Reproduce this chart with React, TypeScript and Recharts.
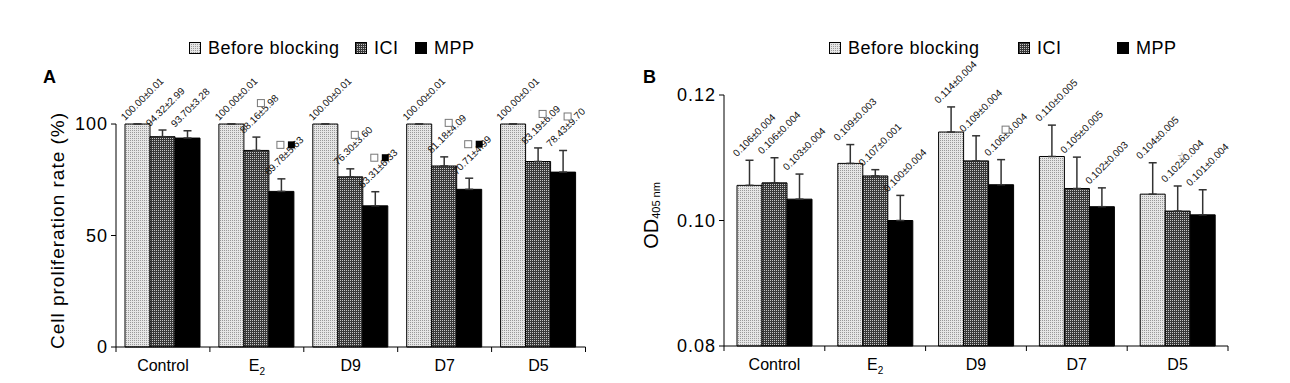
import { Bar, BarChart, ErrorBar, LabelList, XAxis, YAxis } from "recharts";

const FONT = "'Liberation Sans', Arial, Helvetica, sans-serif";

const groups = ["Control", "E2", "D9", "D7", "D5"];
const seriesNames = ["Before blocking", "ICI", "MPP"];
const fills = ["url(#fillBefore)", "url(#fillIci)", "#000"];

// A: cell proliferation rate (%)
const rateBefore = [100, 100, 100, 100, 100];
const rateBeforeSd = [0.01, 0.01, 0.01, 0.01, 0.01];
const rateIci = [94.32, 88.16, 76.3, 81.18, 83.19];
const rateIciSd = [2.99, 5.98, 3.6, 4.09, 6.09];
const rateMpp = [93.7, 69.78, 63.31, 70.71, 78.43];
const rateMppSd = [3.28, 5.63, 6.33, 4.99, 9.7];
const rateIciMarks = ["", "□", "□", "□", "□"];
const rateMppMarks = ["", "□■", "□■", "□■", "□"];
const rateTicks = [0, 50, 100];

// B: OD 405 nm -- bar heights, printed means next to them
const odBefore = [0.1056, 0.1091, 0.1141, 0.1102, 0.1042];
const odBeforeMean = [0.106, 0.109, 0.114, 0.11, 0.104];
const odBeforeSd = [0.004, 0.003, 0.004, 0.005, 0.005];
const odIci = [0.106, 0.1071, 0.1095, 0.1051, 0.1015];
const odIciMean = [0.106, 0.107, 0.109, 0.105, 0.102];
const odIciSd = [0.004, 0.001, 0.004, 0.005, 0.004];
const odMpp = [0.1034, 0.1, 0.1057, 0.1022, 0.1009];
const odMppMean = [0.103, 0.1, 0.106, 0.102, 0.101];
const odMppSd = [0.004, 0.004, 0.004, 0.003, 0.004];
const odIciMarks = ["", "", "", "", "☆"];
const odMppMarks = ["", "", "□", "", ""];
const odTicks = [0.08, 0.1, 0.12];

const noMarks = ["", "", "", "", ""];

function makeRows(
  vals: number[][],
  sds: number[][],
  means: number[][],
  marks: string[][],
  digits: number
) {
  return groups.map((group, i) => {
    const row: any = { group };
    vals.forEach((v, s) => {
      row[`s${s}`] = v[i];
      row[`s${s}Sd`] = sds[s][i];
      row[`s${s}Text`] = `${means[s][i].toFixed(digits)}±${sds[s][i].toFixed(digits)}`;
      row[`s${s}Mark`] = marks[s][i];
    });
    return row;
  });
}

const rateRows = makeRows(
  [rateBefore, rateIci, rateMpp],
  [rateBeforeSd, rateIciSd, rateMppSd],
  [rateBefore, rateIci, rateMpp],
  [noMarks, rateIciMarks, rateMppMarks],
  2
);

const odRows = makeRows(
  [odBefore, odIci, odMpp],
  [odBeforeSd, odIciSd, odMppSd],
  [odBeforeMean, odIciMean, odMppMean],
  [noMarks, odIciMarks, odMppMarks],
  3
);

// rotated "mean±sd" text above the error bar, plus significance marks
function makeNote(rows: any[], s: number, base: number, markDy: number) {
  return (props: any) => {
    const vb = props.viewBox ?? props;
    const x = Number(vb.x);
    const y = Number(vb.y);
    const h = Number(vb.height);
    const row = rows[props.index];
    if (!row || !Number.isFinite(x) || !Number.isFinite(y)) return null;
    const value = row[`s${s}`];
    const sd = row[`s${s}Sd`];
    const top = h > 0 ? y - (sd * h) / (value - base) : y;
    const lx = x;
    const ly = top - 3;
    const marks: string[] = Array.from(String(row[`s${s}Mark`] ?? ""));
    const mx = x + 17;
    const my = top + markDy;
    return (
      <g>
        <text
          x={lx}
          y={ly}
          transform={`rotate(-45 ${lx} ${ly})`}
          fontSize={10}
          fill="#111"
          fontFamily={FONT}
        >
          {props.value}
        </text>
        {marks.map((m, k) => {
          const cx = mx + (k - (marks.length - 1) / 2) * 11;
          if (m === "■")
            return <rect key={k} x={cx - 3.5} y={my - 3.5} width={7} height={7} fill="#000" />;
          if (m === "□")
            return (
              <rect key={k} x={cx - 3.5} y={my - 3.5} width={7} height={7} fill="#fff" stroke="#777" />
            );
          return (
            <text key={k} x={cx} y={my} textAnchor="middle" dominantBaseline="central" fontSize={11} fill="#777">
              {m}
            </text>
          );
        })}
      </g>
    );
  };
}

function GroupTick(props: any) {
  const { x, y, payload, index, visibleTicksCount } = props;
  const half = payload?.offset ?? 0;
  const v = String(payload?.value ?? "");
  return (
    <g>
      <line x1={x - half} x2={x - half} y1={y} y2={y + 5} stroke="#000" />
      {index === visibleTicksCount - 1 && (
        <line x1={x + half} x2={x + half} y1={y} y2={y + 5} stroke="#000" />
      )}
      <text x={x} y={y + 24} textAnchor="middle" fontSize={16} fill="#000" fontFamily={FONT}>
        {v === "E2" ? (
          <>
            E
            <tspan fontSize={10} dy={4}>
              2
            </tspan>
          </>
        ) : (
          v
        )}
      </text>
    </g>
  );
}

const rateTitle = (p: any) => {
  const vb = p.viewBox ?? { x: 0, y: 124, height: 223 };
  const cx = vb.x + 57;
  const cy = vb.y + vb.height / 2 - 5;
  return (
    <text
      x={cx}
      y={cy}
      transform={`rotate(-90 ${cx} ${cy})`}
      textAnchor="middle"
      dominantBaseline="central"
      fontSize={19}
      letterSpacing={1}
      fontFamily={FONT}
      fill="#000"
    >
      Cell proliferation rate (%)
    </text>
  );
};

const odTitle = (p: any) => {
  const vb = p.viewBox ?? { x: 0, y: 95, height: 251 };
  const cx = vb.x + 31;
  const cy = vb.y + vb.height / 2 - 5;
  return (
    <text
      x={cx}
      y={cy}
      transform={`rotate(-90 ${cx} ${cy})`}
      textAnchor="middle"
      dominantBaseline="central"
      fontSize={20}
      fontFamily={FONT}
      fill="#000"
    >
      OD
      <tspan fontSize={11} dy={5}>
        405 nm
      </tspan>
    </text>
  );
};

type PanelProps = {
  rows: any[];
  width: number;
  margin: { top: number; right: number; bottom: number; left: number };
  yWidth: number;
  xHeight: number;
  domain: [number, number];
  ticks: number[];
  tickFmt: (v: number) => string;
  base: number;
  markDy: number;
  title: (p: any) => any;
};

function Panel({ rows, width, margin, yWidth, xHeight, domain, ticks, tickFmt, base, markDy, title }: PanelProps) {
  return (
    <BarChart width={width} height={383} data={rows} margin={margin} barGap={0} barSize={25}>
      <XAxis
        dataKey="group"
        height={xHeight}
        interval={0}
        axisLine={{ stroke: "#000" }}
        tickLine={false}
        tickSize={0}
        tickMargin={0}
        tick={(p: any) => <GroupTick {...p} />}
      />
      <YAxis
        type="number"
        domain={domain}
        ticks={ticks}
        width={yWidth}
        tickFormatter={tickFmt}
        axisLine={{ stroke: "#000" }}
        tickLine={{ stroke: "#000" }}
        tickSize={5}
        tickMargin={3}
        tick={{ fontSize: 18, fill: "#000", fontFamily: FONT, letterSpacing: 1 }}
        label={{ content: title }}
      />
      {fills.map((fill, s) => (
        <Bar
          key={s}
          dataKey={`s${s}`}
          name={seriesNames[s]}
          fill={fill}
          stroke="#000"
          strokeWidth={1}
          isAnimationActive={false}
        >
          <ErrorBar
            dataKey={(d: any) => [0, d[`s${s}Sd`]]}
            width={4}
            stroke="#333"
            strokeWidth={1.5}
            isAnimationActive={false}
          />
          <LabelList dataKey={`s${s}Text`} content={makeNote(rows, s, base, markDy)} />
        </Bar>
      ))}
    </BarChart>
  );
}

function LegendRow({ starts }: { starts: number[] }) {
  return (
    <>
      {seriesNames.map((name, s) => (
        <div
          key={s}
          style={{
            position: "absolute",
            left: starts[s],
            top: 38,
            height: 20,
            display: "flex",
            alignItems: "center",
            gap: 7,
            fontSize: 18,
            letterSpacing: 0.5,
            fontFamily: FONT,
            whiteSpace: "nowrap",
          }}
        >
          <svg width={12} height={12} style={{ display: "block" }}>
            <rect x={0.5} y={0.5} width={11} height={11} fill={fills[s]} stroke="#000" />
          </svg>
          <span>{name}</span>
        </div>
      ))}
    </>
  );
}

const panelLetter = (left: number): React.CSSProperties => ({
  position: "absolute",
  left,
  top: 67,
  lineHeight: "20px",
  fontSize: 18,
  fontWeight: 700,
  fontFamily: FONT,
});

export default function App() {
  return (
    <div
      style={{
        position: "absolute",
        left: 0,
        top: 0,
        width: 1290,
        height: 383,
        background: "#fff",
        overflow: "hidden",
        fontFamily: FONT,
      }}
    >
      <svg width={0} height={0} style={{ position: "absolute" }}>
        <defs>
          <pattern id="fillBefore" width={2} height={2} patternUnits="userSpaceOnUse">
            <rect width={2} height={2} fill="#e6e6e6" />
            <rect width={1} height={1} fill="#9a9a9a" />
          </pattern>
          <pattern id="fillIci" width={2} height={2} patternUnits="userSpaceOnUse">
            <rect width={2} height={2} fill="#383838" />
            <rect width={1} height={1} fill="#c4c4c4" />
          </pattern>
        </defs>
      </svg>

      <div style={{ position: "absolute", left: 0, top: 0 }}>
        <Panel
          rows={rateRows}
          width={600}
          margin={{ top: 124, right: 14.5, bottom: 0, left: 0 }}
          yWidth={116}
          xHeight={36}
          domain={[0, 100]}
          ticks={rateTicks}
          tickFmt={(v) => String(v)}
          base={0}
          markDy={-34}
          title={rateTitle}
        />
      </div>

      <div style={{ position: "absolute", left: 620, top: 0 }}>
        <Panel
          rows={odRows}
          width={670}
          margin={{ top: 95, right: 62, bottom: 0, left: 0 }}
          yWidth={104}
          xHeight={37}
          domain={[0.08, 0.12]}
          ticks={odTicks}
          tickFmt={(v) => v.toFixed(2)}
          base={0.08}
          markDy={-30}
          title={odTitle}
        />
      </div>

      <LegendRow starts={[189, 355, 415]} />
      <LegendRow starts={[829, 1018, 1117]} />
      <div style={panelLetter(43)}>A</div>
      <div style={panelLetter(643)}>B</div>
    </div>
  );
}
